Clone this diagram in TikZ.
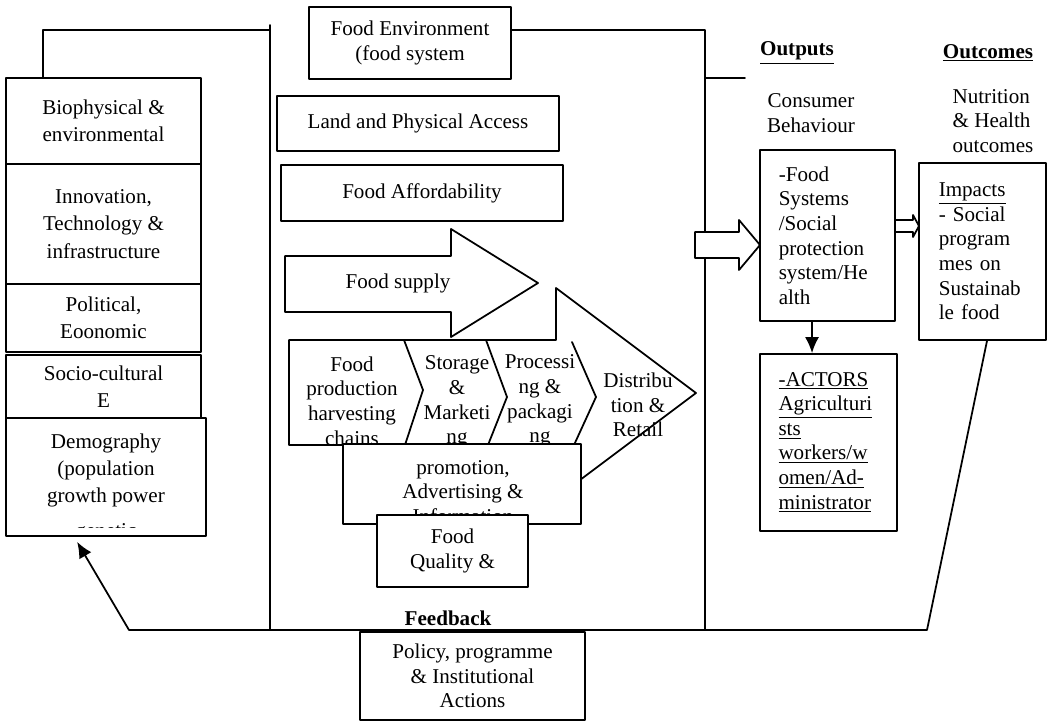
\documentclass[tikz,border=0pt]{standalone}
\usepackage{fontspec}
\setmainfont{Liberation Serif}
\usetikzlibrary{arrows,arrows.meta}
\newcommand{\fsz}{\fontsize{12}{14}\selectfont}
\newcommand{\lsz}{\fontsize{12}{15.5}\selectfont}

\begin{document}
\begin{tikzpicture}[line cap=round,line join=round,>={Latex[length=3.2mm,width=2.8mm]},x=0.02cm,y=-0.02cm,
	every node/.style={font=\fsz},
	frame/.style={line width=1pt},
	box/.style={draw,line width=1pt,fill=white,inner sep=0pt,align=center},
	lbox/.style={box,minimum width=3.9cm,font=\lsz},
	txt/.style={inner sep=0pt,align=center},
	head/.style={txt,font=\fsz\bfseries}]
		\useasboundingbox (0,0) rectangle (1053,722);
		% frame lines behind the boxes
		\draw [frame] (43,78) |- (270,30);
		\draw [frame] (270,25) -- (270,630);
		\draw [frame] (511,30) -- (705,30) -- (705,630);
		\draw [frame] (705,78) -- (745,78);
		% drivers
		\node [lbox,minimum height=1.72cm] (bio) at (103.5,121) {Biophysical \&\\environmental};
		\node [lbox,minimum height=2.4cm] (innov) at (103.5,224) {Innovation,\\Technology \&\\infrastructure};
		\node [lbox,minimum height=1.36cm] (polit) at (103.5,318) {Political,\\Eoonomic};
		\node [lbox,minimum height=1.26cm] (socio) at (103.5,386.5) {Socio-cultural\\E};
		\node [lbox,minimum width=4cm,minimum height=2.36cm] (demo) at (106,477) {};
		\node [txt,font=\lsz] (demotxt) at (106,470.5) {Demography\\(population\\growth power};
		\begin{scope}
		\clip (8,420) rectangle (204,527);
		\node [txt,anchor=base] (democut) at (106,537) {genetic};
		\end{scope}
		% food environment
		\node [box,minimum width=4.04cm,minimum height=1.44cm] (fenv) at (410,43) {Food Environment\\(food system};
		\node [box,minimum width=5.64cm,minimum height=1.1cm] (land) at (418,123.5) {Land and Physical Access};
		\node [box,minimum width=5.64cm,minimum height=1.12cm] (afford) at (422,193) {Food Affordability};
		\draw [frame,fill=white] (285,256) -- (451,256) -- (451,229) -- (538,283) -- (451,337) -- (451,312) -- (285,312) -- cycle;
		\node [txt] (supply) at (398,283) {Food supply};
		\draw [frame,fill=white] (289,340) -- (556,340) -- (556,288) -- (696,393) -- (556,498) -- (556,445) -- (289,445) -- cycle;
		\draw [frame] (404,340) -- (423,390) -- (405,445);
		\draw [frame] (486,340) -- (507,397) -- (488,445);
		\draw [frame] (572,342) -- (596,397) -- (574,445);
		\node [txt] (prod) at (352,401) {Food\\production\\harvesting\\chains};
		\node [txt] (store) at (457,402) {Storage\\\&\\Marketi\\ng};
		\node [txt] (proc) at (540,401) {Processi\\ng \&\\packagi\\ng};
		\node [txt] (distr) at (638,405) {Distribu\\tion \&\\Retail};
		\node [box,minimum width=4.76cm,minimum height=1.6cm] (promo) at (462,484) {};
		\node [txt] (promotxt) at (463,492) {promotion,\\Advertising \&\\Information};
		\node [box,minimum width=3.02cm,minimum height=1.44cm] (quality) at (452.5,551) {Food\\Quality \&};
		% outputs and outcomes
		\node [head] (outp) at (797,53) {\underline{Outputs}};
		\node [head] (outc) at (988,53) {\underline{Outcomes}};
		\node [txt] (consl) at (811,113) {Consumer\\Behaviour};
		\node [txt,align=left] (nutr) at (993,121) {Nutrition\\\& Health\\outcomes};
		\node [box,minimum height=3.42cm,text width=1.95cm,inner xsep=0.375cm,align=left] (consbox) at (827.5,235.5) {-Food\\Systems\\/Social\\protection\\system/He\\alth};
		\node [box,minimum height=3.54cm,text width=1.75cm,inner xsep=0.395cm,align=left] (impbox) at (982.5,251.5) {\underline{Impacts}\\- Social\\program\\mes on\\Sustainab\\le food};
		\node [box,minimum height=3.54cm,text width=2cm,inner xsep=0.37cm,align=left] (actbox) at (828.5,442.5) {\underline{-ACTORS}\\\underline{Agriculturi}\\\underline{sts}\\\underline{workers/w}\\\underline{omen/Ad-}\\\underline{ministrator}};
		\draw [frame,fill=white] (695,232) -- (739,232) -- (739,220) -- (760,245) -- (739,270) -- (739,258) -- (695,258) -- cycle;
		\draw [frame,fill=white] (895,220) -- (913,220) -- (913,215) -- (919,226) -- (913,237) -- (913,232) -- (895,232) -- cycle;
		\draw [frame,->] ([xshift=-0.31cm]consbox.south) -- ([xshift=-0.33cm]actbox.north);
		% feedback loop
		\coordinate (fbr) at (927,630);
		\coordinate (fbl) at (129,630);
		\draw [frame,->] ([xshift=0.09cm]impbox.south) -- (fbr) -- (fbl) -- ([xshift=1.44cm,yshift=-0.1cm]demo.south west);
		\node [head] (fb) at (448,618) {Feedback};
		\node [box,minimum width=4.5cm,minimum height=1.76cm] (policy) at (472.5,676) {Policy, programme\\\& Institutional\\Actions};
		\end{tikzpicture}
\end{document}
